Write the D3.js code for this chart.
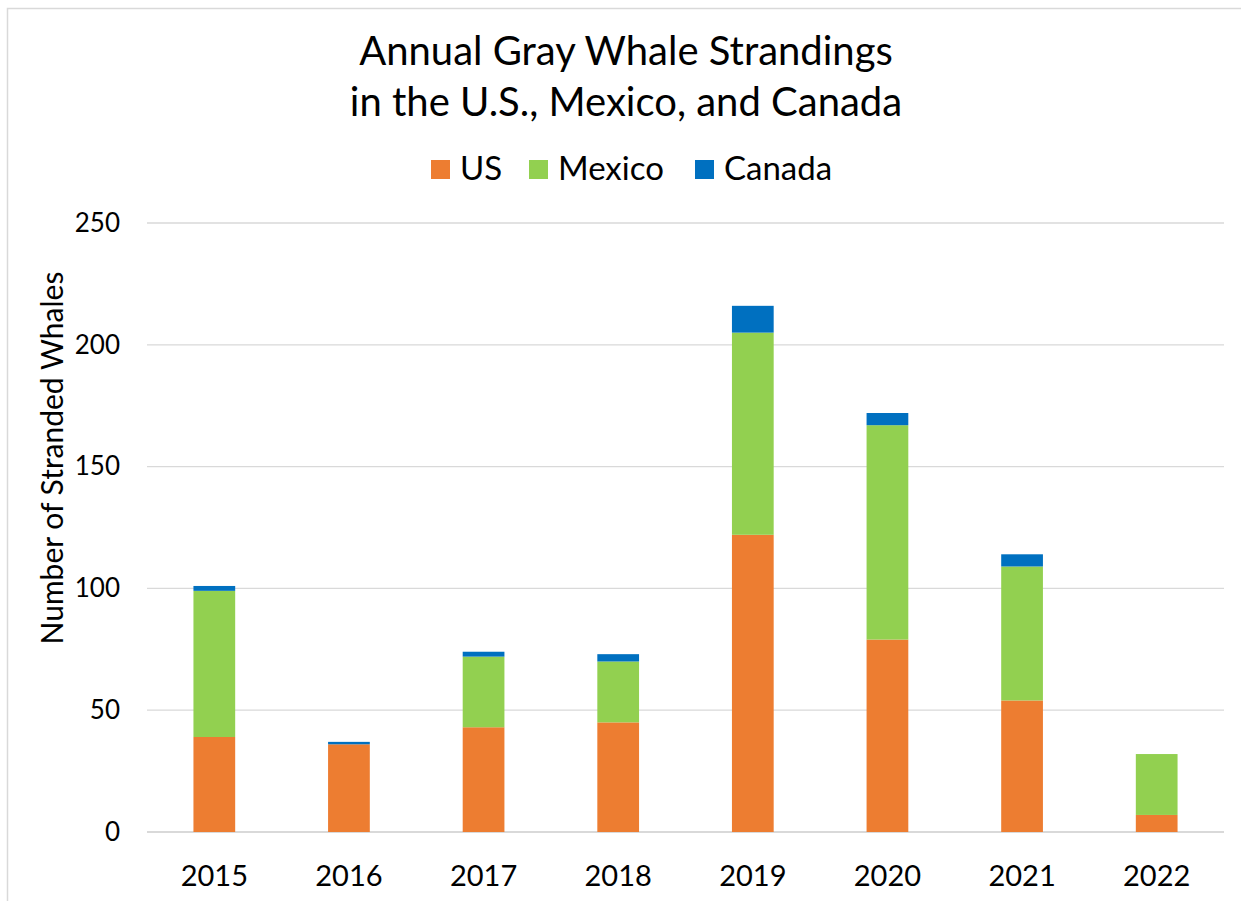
<!DOCTYPE html>
<html>
<head>
<meta charset="utf-8">
<script src="https://cdn.jsdelivr.net/npm/d3@7"></script>
<style>
  body { margin: 0; background: #fff; }
  text { font-family: Lato, "Open Sans", sans-serif; fill: #000; }
</style>
</head>
<body>
<script>
let years = ["2015", "2016", "2017", "2018", "2019", "2020", "2021", "2022"];
let usValues = [39, 36, 43, 45, 122, 79, 54, 7];
let mexicoValues = [60, 0, 29, 25, 83, 88, 55, 25];
let canadaValues = [2, 1, 2, 3, 11, 5, 5, 0];
let seriesNames = ["US", "Mexico", "Canada"];
let seriesColors = ["#ED7D31", "#92D050", "#0070C0"];
let yTicks = [0, 50, 100, 150, 200, 250];
let titleLines = ["Annual Gray Whale Strandings", "in the U.S., Mexico, and Canada"];

let width = 1241, height = 901;

let svg = d3.select("body").append("svg")
    .attr("width", width)
    .attr("height", height);

// chart frame
svg.append("rect")
    .attr("x", 7.5).attr("y", 8.5)
    .attr("width", 1260).attr("height", 920)
    .attr("fill", "none")
    .attr("stroke", "#d9d9d9")
    .attr("stroke-width", 1.5);

let rows = years.map((y, i) => ({
  year: y, US: usValues[i], Mexico: mexicoValues[i], Canada: canadaValues[i]
}));

let x = d3.scaleBand()
    .domain(years)
    .range([147, 1224])
    .paddingInner(0.69)
    .paddingOuter(0.345);

let y = d3.scaleLinear()
    .domain([0, 250])
    .range([832, 223]);

let color = d3.scaleOrdinal().domain(seriesNames).range(seriesColors);

// gridlines
svg.append("g")
  .selectAll("line")
  .data(yTicks)
  .enter().append("line")
    .attr("x1", 147).attr("x2", 1224)
    .attr("y1", d => y(d)).attr("y2", d => y(d))
    .attr("stroke", "#d9d9d9")
    .attr("stroke-width", d => d === 0 ? 2 : 1.3);

// y tick labels
let yAxis = svg.append("g")
    .attr("transform", "translate(147,0)")
    .call(d3.axisLeft(y).tickValues(yTicks).tickSize(0).tickPadding(27));
yAxis.select(".domain").remove();
yAxis.selectAll("text")
    .attr("fill", "#000")
    .style("font-size", "26px");

// x tick labels
let xAxis = svg.append("g")
    .attr("transform", "translate(0,832)")
    .call(d3.axisBottom(x).tickSize(0).tickPadding(33));
xAxis.select(".domain").remove();
xAxis.selectAll("text")
    .attr("fill", "#000")
    .style("font-size", "29px");

// stacked bars
let stack = d3.stack().keys(seriesNames);
let layers = stack(rows);

svg.append("g")
  .selectAll("g")
  .data(layers)
  .enter().append("g")
    .attr("fill", d => color(d.key))
  .selectAll("rect")
  .data(d => d)
  .enter().append("rect")
    .attr("x", d => x(d.data.year))
    .attr("width", x.bandwidth())
    .attr("y", d => y(d[1]))
    .attr("height", d => y(d[0]) - y(d[1]));

// title
svg.append("g")
  .selectAll("text")
  .data(titleLines)
  .enter().append("text")
    .attr("x", 626)
    .attr("y", (d, i) => 65 + i * 51)
    .attr("text-anchor", "middle")
    .style("font-size", "40px")
    .text(d => d);

// y axis title
svg.append("text")
    .attr("transform", "translate(63,458) rotate(-90)")
    .attr("text-anchor", "middle")
    .style("font-size", "30px")
    .text("Number of Stranded Whales");

// legend
let legendX = [431, 529, 695];
let legend = svg.append("g")
  .selectAll("g")
  .data(seriesNames)
  .enter().append("g")
    .attr("transform", (d, i) => "translate(" + legendX[i] + ",160)");
legend.append("rect")
    .attr("width", 19).attr("height", 19)
    .attr("fill", d => color(d));
legend.append("text")
    .attr("x", 29).attr("y", 20)
    .style("font-size", "33px")
    .text(d => d);
</script>
</body>
</html>
